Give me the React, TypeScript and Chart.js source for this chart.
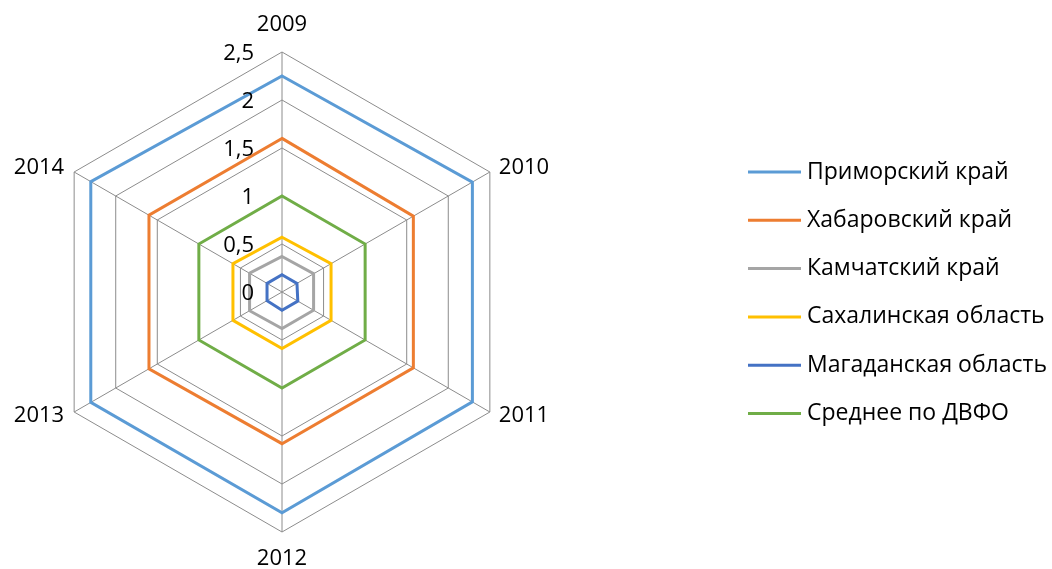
import React, { useEffect, useRef } from "react";
import { Chart, registerables } from "chart.js";

Chart.register(...registerables);

const categories = ["2009", "2010", "2011", "2012", "2013", "2014"];
const tickValues = [0, 0.5, 1, 1.5, 2, 2.5];
const tickLabels = ["0", "0,5", "1", "1,5", "2", "2,5"];

const seriesNames = [
  "Приморский край",
  "Хабаровский край",
  "Камчатский край",
  "Сахалинская область",
  "Магаданская область",
  "Среднее по ДВФО",
];
const primorsky = [2.25, 2.29, 2.29, 2.3, 2.3, 2.3];
const khabarovsk = [1.6, 1.58, 1.58, 1.58, 1.6, 1.6];
const kamchatka = [0.37, 0.38, 0.38, 0.38, 0.39, 0.39];
const sakhalin = [0.57, 0.59, 0.59, 0.59, 0.59, 0.59];
const magadan = [0.18, 0.18, 0.19, 0.19, 0.18, 0.18];
const average = [1.0, 1.0, 1.0, 1.0, 1.0, 1.0];
const seriesColors = ["#5B9BD5", "#ED7D31", "#A5A5A5", "#FFC000", "#4472C4", "#70AD47"];

const FONT = "22px 'Open Sans'";
const LEGEND_FONT = "23px 'Open Sans'";

const customDraw = {
  id: "customDraw",
  afterDraw(chart: any) {
    const ctx = chart.ctx as CanvasRenderingContext2D;
    const scale = chart.scales.r;
    ctx.save();
    ctx.fillStyle = "#000";
    ctx.font = FONT;
    // tick labels
    ctx.textAlign = "right";
    ctx.textBaseline = "middle";
    tickValues.forEach((v, i) => {
      const d = scale.getDistanceFromCenterForValue(v);
      ctx.fillText(tickLabels[i], scale.xCenter - 28, scale.yCenter - d + 2);
    });
    // point labels
    const outer = scale.getDistanceFromCenterForValue(2.5);
    categories.forEach((c, i) => {
      const p = scale.getPointPosition(i, outer);
      if (i === 0) {
        ctx.textAlign = "center";
        ctx.fillText(c, p.x, p.y - 27);
      } else if (i === 3) {
        ctx.textAlign = "center";
        ctx.fillText(c, p.x, p.y + 27);
      } else if (i === 1 || i === 2) {
        ctx.textAlign = "left";
        ctx.fillText(c, p.x + 9, p.y + (i === 1 ? -4 : 4));
      } else {
        ctx.textAlign = "right";
        ctx.fillText(c, p.x - 10, p.y + (i === 5 ? -4 : 4));
      }
    });
    // legend
    ctx.textAlign = "left";
    ctx.font = LEGEND_FONT;
    chart.data.datasets.forEach((ds: any, i: number) => {
      const y = 172 + i * 48.3;
      ctx.strokeStyle = ds.borderColor;
      ctx.lineWidth = 3;
      ctx.beginPath();
      ctx.moveTo(748, y);
      ctx.lineTo(801, y);
      ctx.stroke();
      ctx.fillStyle = "#000";
      ctx.fillText(ds.label, 807, y);
    });
    ctx.restore();
  },
};

export default function App() {
  const ref = useRef<HTMLCanvasElement>(null);
  useEffect(() => {
    const seriesData = [primorsky, khabarovsk, kamchatka, sakhalin, magadan, average];
    const chart = new Chart(ref.current!, {
      type: "radar",
      data: {
        labels: categories,
        datasets: seriesNames.map((name, i) => ({
          label: name,
          data: seriesData[i],
          borderColor: seriesColors[i],
          backgroundColor: "transparent",
          borderWidth: 3,
          pointRadius: 0,
          fill: false,
          tension: 0,
        })),
      },
      options: {
        responsive: false,
        animation: false,
        layout: { padding: { left: 41, right: 529, top: 52, bottom: 36 } },
        plugins: { legend: { display: false }, tooltip: { enabled: false } },
        scales: {
          r: {
            min: 0,
            max: 2.5,
            ticks: { display: false, stepSize: 0.5 },
            pointLabels: { display: false },
            grid: { color: "#8C8C8C", lineWidth: 1 },
            angleLines: { color: "#8C8C8C", lineWidth: 1 },
          },
        },
      },
      plugins: [customDraw],
    });
    return () => chart.destroy();
  }, []);
  return (
    <div style={{ position: "fixed", left: 0, top: 0, width: 1052, height: 569, background: "#fff" }}>
      <canvas ref={ref} width={1052} height={569} style={{ width: 1052, height: 569 }} />
    </div>
  );
}
